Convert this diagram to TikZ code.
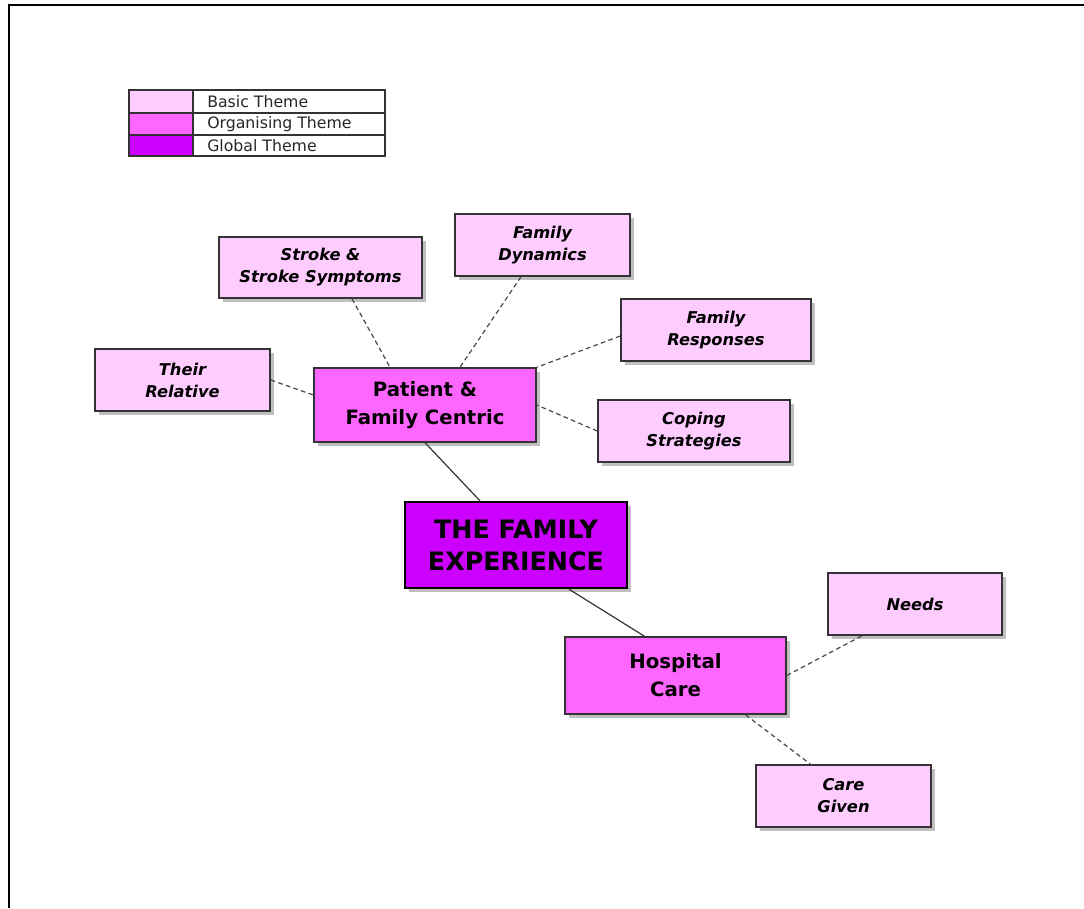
\documentclass[tikz,border=0pt]{standalone}
\usepackage{fontspec}
\setmainfont{DejaVu Sans}
\usetikzlibrary{shadows,calc}
\newdimen\pxu \pxu=0.75pt
\definecolor{basicc}{HTML}{FFCCFF}
\definecolor{orgc}{HTML}{FF66FF}
\definecolor{globc}{HTML}{CC00FF}
\definecolor{edgec}{HTML}{333333}
\tikzset{
  shad/.style={drop shadow={shadow xshift=3pt, shadow yshift=-3pt, fill=black, opacity=0.25}},
  basic/.style={shad, draw=edgec, line width=1.1pt, fill=basicc, align=center, inner sep=0pt,
    font=\bfseries\itshape\fontsize{12.2}{16.5}\selectfont},
  org/.style={shad, draw=edgec, line width=1.1pt, fill=orgc, align=center, inner sep=0pt,
    font=\bfseries\fontsize{14.8}{21}\selectfont},
  glob/.style={shad, draw=black, line width=1.8pt, fill=globc, align=center, inner sep=0pt,
    font=\bfseries\fontsize{19}{24}\selectfont},
  link/.style={draw=edgec!90, line width=0.9pt, dash pattern=on 3.5pt off 2.5pt},
  solidlink/.style={draw=edgec, line width=0.9pt},
  legtext/.style={anchor=west, inner sep=0pt, font=\fontsize{11.8}{13}\selectfont, text=black!85}
}
\begin{document}
\begin{tikzpicture}[x=0.75pt,y=-0.75pt]
\useasboundingbox (0,0) rectangle (1084,908);
% frame
\draw[line width=2pt] (9,908) -- (9,5) -- (1084,5);
% legend
\fill[basicc] (129,90) rectangle (193,113);
\fill[orgc] (129,113) rectangle (193,135);
\fill[globc] (129,135) rectangle (193,156);
\draw[edgec, line width=0.8pt] (129,90) rectangle (385,156);
\draw[edgec, line width=0.8pt] (129,113) -- (385,113) (129,135) -- (385,135) (193,90) -- (193,156);
\node[legtext] (lb) at (207,101.5) {Basic Theme};
\node[legtext] (lo) at (207,124) {Organising Theme};
\node[legtext] (lg) at (207,145.5) {Global Theme};
% nodes
\node[basic, minimum width=203\pxu, minimum height=61\pxu] (stroke) at (320.5,267.5) {Stroke \&\\Stroke Symptoms};
\node[basic, minimum width=175\pxu, minimum height=62\pxu] (dyn) at (542.5,245) {Family\\Dynamics};
\node[basic, minimum width=190\pxu, minimum height=62\pxu] (resp) at (716,330) {Family\\Responses};
\node[basic, minimum width=175\pxu, minimum height=62\pxu] (rel) at (182.5,380) {Their\\Relative};
\node[basic, minimum width=192\pxu, minimum height=62\pxu] (cope) at (694,431) {Coping\\Strategies};
\node[org, minimum width=222\pxu, minimum height=74\pxu] (pfc) at (425,405) {Patient \&\\Family Centric};
\node[glob, minimum width=222\pxu, minimum height=86\pxu] (exp) at (516,545) {THE FAMILY\\EXPERIENCE};
\node[basic, minimum width=174\pxu, minimum height=62\pxu] (needs) at (915,604) {Needs};
\node[org, minimum width=221\pxu, minimum height=77\pxu] (hosp) at (675.5,675.5) {Hospital\\Care};
\node[basic, minimum width=175\pxu, minimum height=62\pxu] (care) at (843.5,796) {Care\\Given};
% connectors
\draw[link] ([xshift=31.5\pxu]stroke.south) -- ([xshift=-35\pxu]pfc.north);
\draw[link] ([xshift=-21.5\pxu]dyn.south) -- ([xshift=35\pxu]pfc.north);
\draw[link] ([yshift=-6\pxu]resp.west) -- (pfc.north east);
\draw[link] (rel.east) -- ([yshift=10\pxu]pfc.west);
\draw[link] (cope.west) -- (pfc.east);
\draw[solidlink] (pfc.south) -- ([xshift=-36\pxu]exp.north);
\draw[solidlink] ([xshift=53\pxu]exp.south) -- ([xshift=-31\pxu]hosp.north);
\draw[link] (hosp.east) -- ([xshift=-53\pxu]needs.south);
\draw[link] ([xshift=70\pxu]hosp.south) -- ([xshift=-33\pxu]care.north);
\end{tikzpicture}
\end{document}
